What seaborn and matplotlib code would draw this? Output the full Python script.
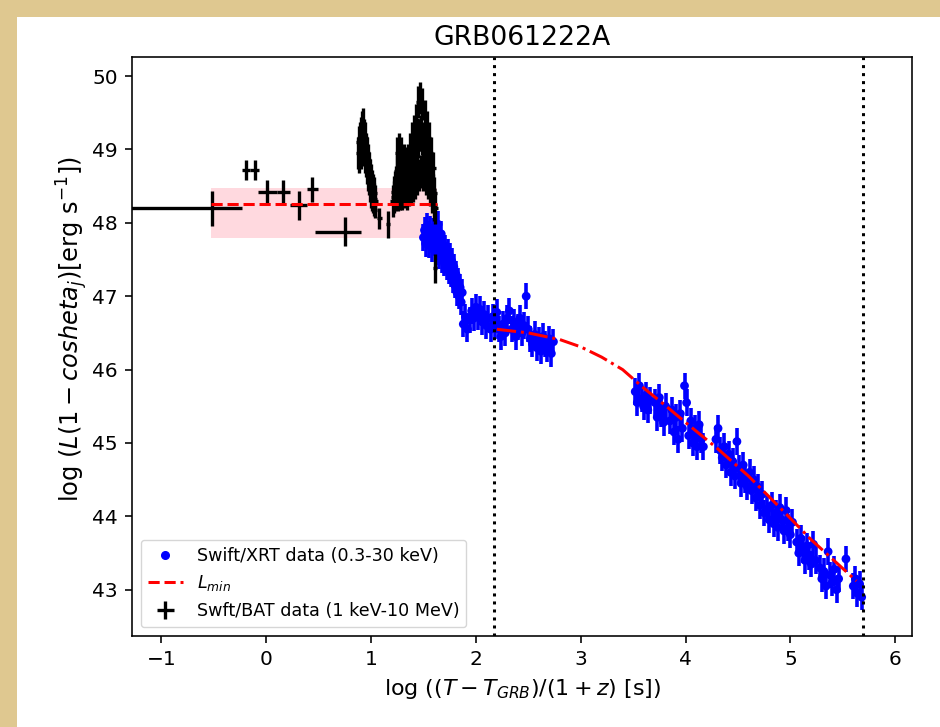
import matplotlib
matplotlib.use("Agg")
import matplotlib.pyplot as plt
from matplotlib.lines import Line2D
from matplotlib.patches import Rectangle
import seaborn as sns

# ---------------- data ----------------
title = "GRB061222A"

# Swift/BAT isolated points
bat_x = [-0.52, -0.19, -0.11, 0.01, 0.16, 0.31, 0.44, 0.75, 1.04, 1.08, 1.16, 1.61]
bat_y = [48.20, 48.72, 48.72, 48.42, 48.42, 48.24, 48.46, 47.88, 48.18, 48.06, 47.98, 47.38]
bat_yerr = [0.24, 0.14, 0.14, 0.16, 0.16, 0.20, 0.17, 0.20, 0.12, 0.14, 0.18, 0.20]
bat_xerr_lo = [0.80, 0.04, 0.04, 0.09, 0.06, 0.08, 0.05, 0.28, 0.02, 0.02, 0.02, 0.02]
bat_xerr_hi = [0.29, 0.04, 0.04, 0.09, 0.07, 0.08, 0.05, 0.15, 0.02, 0.02, 0.02, 0.02]

# Swift/BAT flare 1
fl1_x = [0.878, 0.883, 0.888, 0.893, 0.898, 0.903, 0.908, 0.913, 0.918, 0.923,
         0.928, 0.933, 0.938, 0.943, 0.948, 0.953, 0.958, 0.963, 0.968, 0.973,
         0.978, 0.983, 0.988, 0.993, 0.998, 1.003, 1.008, 1.013, 1.018, 1.023,
         1.028, 1.033, 1.038]
fl1_y = [48.95, 49.10, 48.90, 49.15, 49.00, 49.22, 48.95, 49.30, 49.05, 49.35,
         49.00, 49.20, 48.90, 49.15, 48.85, 49.00, 48.75, 48.95, 48.65, 48.85,
         48.60, 48.75, 48.50, 48.65, 48.42, 48.58, 48.38, 48.50, 48.35, 48.45,
         48.32, 48.40, 48.30]

# Swift/BAT flare 2
fl2_x = [1.210, 1.215, 1.220, 1.225, 1.230, 1.235, 1.240, 1.245, 1.250, 1.255,
         1.260, 1.265, 1.270, 1.275, 1.280, 1.285, 1.290, 1.295, 1.300, 1.305,
         1.310, 1.315, 1.320, 1.325, 1.330, 1.335, 1.340, 1.345, 1.350, 1.355,
         1.360, 1.365, 1.370, 1.375, 1.380, 1.385, 1.390, 1.395, 1.400, 1.405,
         1.410, 1.415, 1.420, 1.425, 1.430, 1.435, 1.440, 1.445, 1.450, 1.455,
         1.460, 1.465, 1.470, 1.475, 1.480, 1.485, 1.490, 1.495, 1.500, 1.505,
         1.510, 1.515, 1.520, 1.525, 1.530, 1.535, 1.540, 1.545, 1.550, 1.555,
         1.560, 1.565, 1.570, 1.575, 1.580, 1.585, 1.590, 1.595, 1.600, 1.605,
         1.610]
fl2_y = [48.30, 48.42, 48.35, 48.48, 48.38, 48.55, 48.40, 48.70, 48.95, 48.60,
         48.38, 48.75, 49.00, 48.65, 48.40, 48.80, 48.95, 48.55, 48.40, 48.75,
         48.85, 48.55, 48.42, 48.70, 48.82, 48.50, 48.40, 48.68, 48.85, 48.55,
         48.45, 48.80, 49.00, 48.70, 48.48, 48.85, 49.15, 48.75, 48.50, 48.90,
         49.25, 48.85, 48.55, 49.00, 49.40, 48.95, 48.60, 49.10, 49.65, 49.20,
         48.65, 49.20, 49.70, 49.25, 48.70, 49.15, 49.62, 49.10, 48.65, 49.05,
         49.45, 49.00, 48.60, 48.95, 49.30, 48.90, 48.55, 48.85, 49.15, 48.75,
         48.45, 48.70, 48.95, 48.60, 48.35, 48.55, 48.75, 48.45, 48.25, 48.40,
         48.20]
flare_yerr = 0.22
flare_xerr = 0.025

# Swift/XRT data
xrt_x = [1.50, 1.51, 1.52, 1.53, 1.54, 1.55, 1.56, 1.57, 1.58, 1.59,
         1.60, 1.61, 1.62, 1.63, 1.64, 1.65, 1.66, 1.67, 1.68, 1.69,
         1.70, 1.71, 1.72, 1.73, 1.74, 1.75, 1.76, 1.77, 1.78, 1.79,
         1.80, 1.81, 1.82, 1.83, 1.84, 1.85, 1.86, 1.87,
         1.88, 1.90, 1.92, 1.94, 1.96, 1.98, 2.00, 2.02, 2.04, 2.06,
         2.08, 2.10, 2.12, 2.14, 2.16, 2.18, 2.20, 2.22, 2.24, 2.26,
         2.28, 2.30, 2.32, 2.34, 2.36, 2.38, 2.40, 2.42, 2.44, 2.46,
         2.48, 2.50, 2.52, 2.54, 2.56, 2.58, 2.60, 2.62, 2.64, 2.66,
         2.68, 2.70, 2.72, 2.74,
         3.52, 3.54, 3.56, 3.58, 3.60, 3.62, 3.64, 3.66,
         3.71, 3.73, 3.75, 3.77, 3.79, 3.81,
         3.85, 3.87, 3.89, 3.91, 3.93, 3.95, 3.97, 3.99, 4.01, 4.03,
         4.05, 4.07, 4.09, 4.11, 4.13, 4.15, 4.17,
         4.29, 4.31, 4.33, 4.35, 4.37, 4.39, 4.41, 4.43, 4.45, 4.47,
         4.49, 4.51, 4.53, 4.55, 4.57, 4.59, 4.61, 4.63, 4.65, 4.67,
         4.69, 4.71, 4.73, 4.75,
         4.78, 4.80, 4.82, 4.84, 4.86, 4.88, 4.90, 4.92, 4.94, 4.96,
         4.98, 5.00, 5.02,
         5.06, 5.08, 5.10, 5.12, 5.14, 5.16, 5.18, 5.20, 5.22, 5.24,
         5.28, 5.30, 5.32, 5.34, 5.36, 5.38, 5.40, 5.42, 5.44, 5.46,
         5.53, 5.60, 5.62, 5.64, 5.66, 5.68]
xrt_y = [47.80, 47.90, 47.72, 47.95, 47.85, 47.70, 47.92, 47.80, 47.65, 47.88,
         47.75, 47.95, 47.60, 47.82, 47.98, 47.55, 47.75, 47.85, 47.50, 47.70,
         47.45, 47.65, 47.40, 47.60, 47.35, 47.55, 47.30, 47.48, 47.22, 47.40,
         47.15, 47.30, 47.05, 47.20, 47.00, 47.12, 46.92, 47.05,
         46.62, 46.72, 46.55, 46.68, 46.80, 46.70, 46.85, 46.72, 46.82, 46.65,
         46.75, 46.60, 46.70, 46.55, 46.72, 46.60, 46.78, 46.55, 46.45, 46.62,
         46.50, 46.70, 46.80, 46.55, 46.65, 46.45, 46.58, 46.70, 46.50, 46.60,
         47.00, 46.55, 46.42, 46.35, 46.48, 46.30, 46.40, 46.25, 46.45, 46.35,
         46.28, 46.42, 46.22, 46.38,
         45.70, 45.55, 45.78, 45.60, 45.50, 45.65, 45.45, 45.58,
         45.55, 45.35, 45.62, 45.40, 45.28, 45.50,
         45.30, 45.45, 45.15, 45.35, 45.05, 45.40, 45.20, 45.78, 45.55, 45.10,
         45.30, 45.00, 45.20, 44.95, 45.25, 45.05, 44.95,
         45.05, 45.20, 44.90, 44.80, 44.95, 44.70, 44.85, 44.60, 44.75, 44.55,
         45.02, 44.65, 44.45, 44.70, 44.50, 44.40, 44.60, 44.35, 44.50, 44.25,
         44.40, 44.15, 44.30, 44.05,
         44.10, 43.95, 44.15, 43.90, 44.05, 43.85, 44.12, 43.95, 43.80, 44.08,
         43.85, 43.75, 43.92,
         43.65, 43.50, 43.70, 43.55, 43.40, 43.60, 43.45, 43.35, 43.62, 43.40,
         43.30, 43.15, 43.25, 43.05, 43.52, 43.20, 43.10, 43.28, 43.00, 43.15,
         43.42, 43.05, 43.15, 42.95, 43.08, 42.90]
xrt_yerr = 0.18
xrt_xerr = 0.01

# L_min band and level
lmin_x = [-0.53, 1.63]
lmin_level = [48.26, 48.26]
lmin_lo = 47.80
lmin_hi = 48.47

# model curve (red dash-dot)
model_x = [2.20, 2.50, 2.80, 3.00, 3.20, 3.40, 3.60, 3.80, 4.00, 4.30, 4.60, 4.90, 5.20, 5.40, 5.63]
model_y = [46.55, 46.50, 46.41, 46.31, 46.17, 46.00, 45.75, 45.52, 45.28, 44.93, 44.55, 44.12, 43.68, 43.42, 43.12]

# vertical dotted markers
vlines_x = [2.17, 5.69]

xlim = (-1.28, 6.16)
ylim = (42.37, 50.26)
xticks = [-1, 0, 1, 2, 3, 4, 5, 6]
yticks = [43, 44, 45, 46, 47, 48, 49, 50]

# ---------------- style ----------------
S = 1.45
sns.set_theme(style="ticks", rc={
    "axes.edgecolor": "black", "xtick.color": "black", "ytick.color": "black",
    "axes.labelcolor": "black", "text.color": "black",
    "axes.linewidth": 0.8 * S, "xtick.major.width": 0.8 * S, "ytick.major.width": 0.8 * S,
    "xtick.major.size": 3.5 * S, "ytick.major.size": 3.5 * S,
    "xtick.major.pad": 3.5 * S, "ytick.major.pad": 3.5 * S,
    "font.size": 10 * S, "axes.labelsize": 11 * S, "xtick.labelsize": 10 * S,
    "ytick.labelsize": 10 * S, "legend.fontsize": 8.7 * S, "axes.titlesize": 13.2 * S,
    "axes.labelpad": 4 * S, "axes.titlepad": 6 * S,
})
plt.rcParams["font.family"] = ["DejaVu Sans"]
plt.rcParams["mathtext.fontset"] = "dejavusans"

fig = plt.figure(figsize=(9.4, 7.27), dpi=100)
fig.patch.set_facecolor("#dfc890")
fig.add_artist(Rectangle((17 / 940, 0), 1 - 17 / 940, 1 - 17 / 727,
                         transform=fig.transFigure, facecolor="white",
                         edgecolor="none", zorder=0))
ax = fig.add_axes([132 / 940, 1 - 636 / 727, (912 - 132) / 940, (636 - 57) / 727])
ax.set_facecolor("white")

# pink band
ax.fill_between(lmin_x, [lmin_lo, lmin_lo], [lmin_hi, lmin_hi],
                color="pink", alpha=0.6, linewidth=0, zorder=1)

# XRT error bars + markers
ax.errorbar(xrt_x, xrt_y, xerr=xrt_xerr, yerr=xrt_yerr, fmt="none", ecolor="blue",
            elinewidth=2.6, capsize=0, zorder=2)
sns.scatterplot(x=xrt_x, y=xrt_y, ax=ax, color="blue", s=40, edgecolor="none",
                linewidth=0, zorder=3, legend=False)

# BAT
bat_cont = ax.errorbar(bat_x, bat_y, xerr=[bat_xerr_lo, bat_xerr_hi], yerr=bat_yerr,
                       fmt="none", ecolor="black", elinewidth=2.4, capsize=0, zorder=4)
ax.errorbar(fl1_x, fl1_y, xerr=flare_xerr, yerr=flare_yerr, fmt="none", ecolor="black",
            elinewidth=2.4, capsize=0, zorder=4)
ax.errorbar(fl2_x, fl2_y, xerr=flare_xerr, yerr=flare_yerr, fmt="none", ecolor="black",
            elinewidth=2.4, capsize=0, zorder=4)

# L_min dashed line and model dash-dot curve
sns.lineplot(x=lmin_x, y=lmin_level, ax=ax, color="red", linestyle="--",
             linewidth=1.5 * S, zorder=5, legend=False)
sns.lineplot(x=model_x, y=model_y, ax=ax, color="red", linestyle="-.",
             linewidth=1.5 * S, zorder=5, legend=False, sort=False)

for xv in vlines_x:
    ax.axvline(xv, color="black", linestyle=":", linewidth=1.5 * S, zorder=6)

ax.set_xlim(*xlim)
ax.set_ylim(*ylim)
ax.set_xticks(xticks)
ax.set_yticks(yticks)
for s in ax.spines.values():
    s.set_visible(True)
ax.tick_params(direction="out")

ax.set_title(title)
ax.set_xlabel(r"log $((T-T_{GRB})/(1+z)$ [s])")
ax.set_ylabel(r"log $(L(1-cosheta_j)$[erg s$^{-1}$])", fontsize=12 * S)
ax.yaxis.set_label_coords(-0.054, 0.53)

h_xrt = Line2D([], [], color="blue", marker="o", linestyle="none", markersize=5.5)
h_lmin = Line2D([], [], color="red", linestyle="--", linewidth=1.5 * S)
leg = ax.legend([h_xrt, h_lmin, bat_cont],
                ["Swift/XRT data (0.3-30 keV)", r"$L_{min}$", "Swft/BAT data (1 keV-10 MeV)"],
                loc="lower left", frameon=True, framealpha=0.8, edgecolor="0.8",
                fancybox=True)

fig.savefig("out.png", dpi=100, facecolor=fig.get_facecolor())
